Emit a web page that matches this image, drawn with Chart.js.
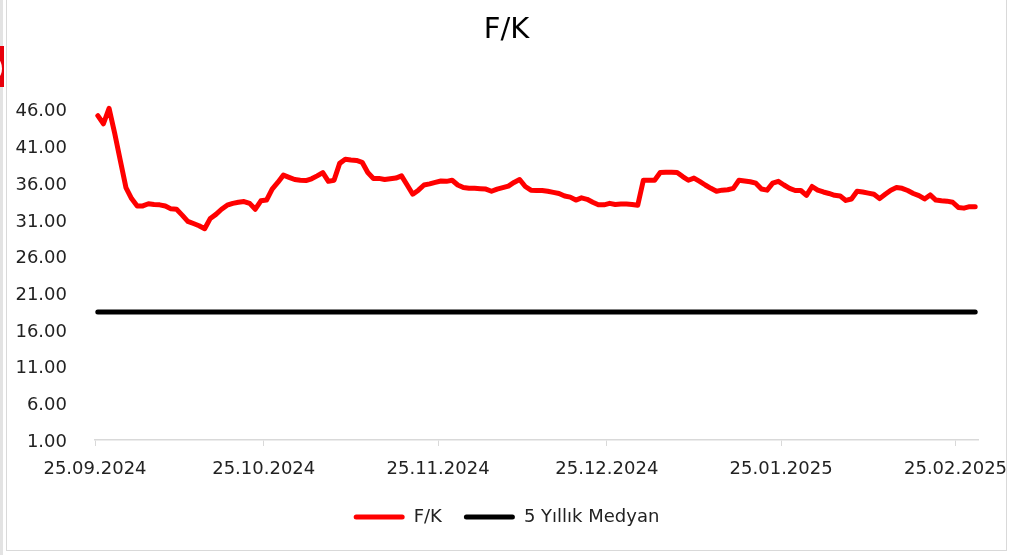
<!DOCTYPE html>
<html>
<head>
<meta charset="utf-8">
<script src="https://cdn.jsdelivr.net/npm/chart.js@4.4.1/dist/chart.umd.min.js"></script>
<style>
    body { margin: 0; background: #fff; width: 1017px; height: 555px; overflow: hidden; position: relative; }
    #edge { position: absolute; left: 0; top: 0; width: 3px; height: 555px; background: #e3e3e3; }
    #mark { position: absolute; left: 0; top: 46px; width: 4px; height: 41px; background: #e8000b; overflow: hidden; }
    #mark div { position: absolute; left: -6px; top: 14px; width: 8px; height: 17px; border-radius: 50%; background: #fff; }
    #chartBox { position: absolute; left: 6px; top: -1px; width: 999px; height: 550px; border: 1px solid #d9d9d9; }
</style>
</head>
<body>
<div id="edge"></div>
<div id="mark"><div></div></div>
<div id="chartBox"><canvas id="myChart"></canvas></div>
<script>
// one value per calendar day, day 0 = 25.09.2024, last day = 28.02.2025
const fkValues = [
    45.20, 44.10, 46.20, 42.80, 39.10, 35.40, 33.90, 32.90, 32.90, 33.20,
    33.10, 33.05, 32.90, 32.50, 32.45, 31.65, 30.80, 30.50, 30.20, 29.80,
    31.20, 31.75, 32.45, 33.00, 33.25, 33.40, 33.50, 33.25, 32.45, 33.60,
    33.70, 35.20, 36.10, 37.10, 36.80, 36.50, 36.40, 36.35, 36.60, 37.00,
    37.45, 36.25, 36.40, 38.70, 39.25, 39.15, 39.10, 38.85, 37.45, 36.65,
    36.65, 36.50, 36.60, 36.70, 37.00, 35.75, 34.50, 35.05, 35.75, 35.90,
    36.10, 36.30, 36.25, 36.40, 35.75, 35.40, 35.30, 35.30, 35.25, 35.20,
    34.90, 35.20, 35.40, 35.60, 36.10, 36.50, 35.55, 35.05, 35.00, 35.00,
    34.90, 34.75, 34.60, 34.25, 34.10, 33.70, 34.00, 33.80, 33.40, 33.05,
    33.05, 33.25, 33.10, 33.15, 33.15, 33.10, 33.00, 36.40, 36.40, 36.40,
    37.45, 37.50, 37.50, 37.45, 36.90, 36.40, 36.70, 36.25, 35.75, 35.30,
    34.90, 35.05, 35.10, 35.30, 36.40, 36.30, 36.20, 36.00, 35.20, 35.05,
    36.00, 36.25, 35.75, 35.30, 35.00, 35.00, 34.35, 35.55, 35.05, 34.80,
    34.60, 34.35, 34.25, 33.65, 33.85, 34.90, 34.80, 34.65, 34.50, 33.90,
    34.50, 35.05, 35.40, 35.30, 35.00, 34.60, 34.30, 33.85, 34.40, 33.70,
    33.60, 33.55, 33.40, 32.70, 32.60, 32.80, 32.80
];
const medianValue = 18.45;

const tickDays = [0, 30, 61, 91, 122, 153];
const tickLabels = ['25.09.2024', '25.10.2024', '25.11.2024', '25.12.2024', '25.01.2025', '25.02.2025'];
const yTicks = [1, 6, 11, 16, 21, 26, 31, 36, 41, 46];

const seriesNames = ['F/K', '5 Yıllık Medyan'];
const seriesColors = ['#ff0000', '#000000'];

function drawChart() {
    let fkPoints = fkValues.map((v, d) => ({ x: d, y: v }));
    let lastDay = fkValues.length - 1;
    let medianPoints = [{ x: 0, y: medianValue }, { x: lastDay, y: medianValue }];

    const font = { family: 'DejaVu Sans', size: 18 };

    let data = {
        datasets: [{
            label: seriesNames[0],
            data: fkPoints,
            borderColor: seriesColors[0],
            backgroundColor: seriesColors[0],
            borderWidth: 5,
            borderCapStyle: 'round',
            borderJoinStyle: 'round',
            pointRadius: 0,
            tension: 0
        }, {
            label: seriesNames[1],
            data: medianPoints,
            borderColor: seriesColors[1],
            backgroundColor: seriesColors[1],
            borderWidth: 5,
            borderCapStyle: 'round',
            pointRadius: 0
        }]
    };

    let config = {
        type: 'line',
        data: data,
        options: {
            animation: false,
            responsive: true,
            maintainAspectRatio: false,
            events: [],
            layout: { padding: { left: 0, right: 0, top: 0, bottom: 14 } },
            plugins: {
                title: {
                    display: true,
                    text: 'F/K',
                    color: '#000',
                    font: { family: 'DejaVu Sans', size: 29, weight: 'normal' },
                    padding: { top: 13, bottom: 40 }
                },
                legend: {
                    position: 'bottom',
                    labels: {
                        font: font,
                        color: '#222',
                        boxWidth: 51,
                        boxHeight: 5,
                        padding: 22,
                        generateLabels: (chart) => chart.data.datasets.map((ds, i) => ({
                            text: ds.label,
                            fillStyle: ds.borderColor,
                            strokeStyle: ds.borderColor,
                            lineWidth: 0,
                            borderRadius: 2.5,
                            fontColor: '#222',
                            hidden: false,
                            datasetIndex: i
                        }))
                    }
                },
                tooltip: { enabled: false }
            },
            scales: {
                x: {
                    type: 'linear',
                    min: -0.5,
                    max: lastDay + 0.5,
                    grid: {
                        drawOnChartArea: false,
                        drawTicks: true,
                        tickLength: 6,
                        color: '#d9d9d9'
                    },
                    border: { display: true, color: '#d9d9d9', width: 1.5 },
                    afterBuildTicks: (scale) => {
                        // ticks sit on the start of each day, points in the middle
                        scale.ticks = tickDays.map(d => ({ value: d - 0.5 }));
                    },
                    afterFit: (scale) => {
                        scale.height = 46;
                        scale.paddingLeft = 0;
                        scale.paddingRight = 28;
                    },
                    ticks: {
                        font: font,
                        color: '#222',
                        padding: 13,
                        autoSkip: false,
                        maxRotation: 0,
                        minRotation: 0,
                        callback: (value, index) => tickLabels[index]
                    }
                },
                y: {
                    min: 1,
                    max: 49,
                    grid: { display: false },
                    border: { display: false },
                    afterBuildTicks: (scale) => {
                        scale.ticks = yTicks.map(v => ({ value: v }));
                    },
                    afterFit: (scale) => {
                        scale.width = 88;
                        scale.paddingTop = 0;
                        scale.paddingBottom = 0;
                    },
                    ticks: {
                        font: font,
                        color: '#222',
                        padding: 20,
                        labelOffset: 2,
                        callback: (value) => Number(value).toFixed(2)
                    }
                }
            }
        }
    };

    new Chart(document.getElementById('myChart'), config);
}

drawChart();
</script>
</body>
</html>
